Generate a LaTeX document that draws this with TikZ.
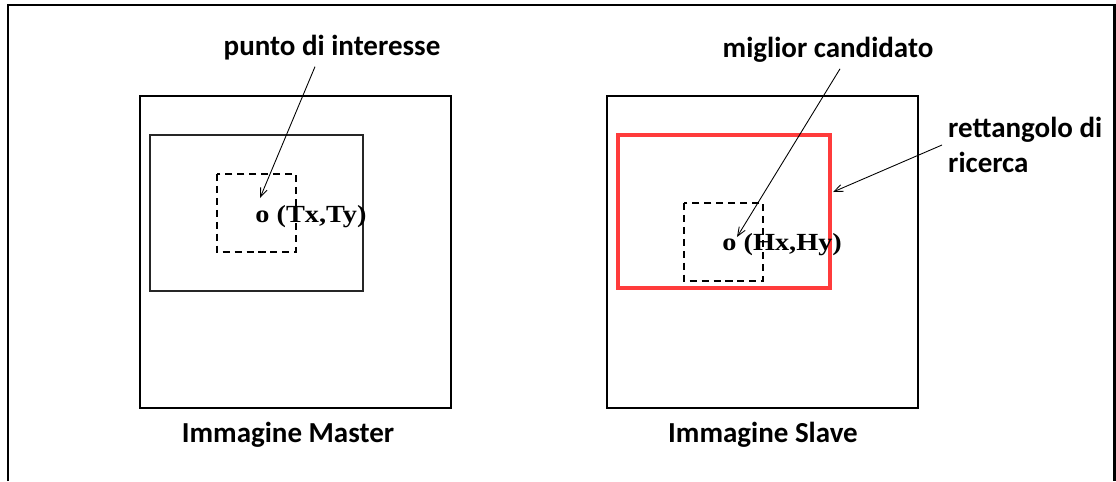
\documentclass[tikz,border=0pt]{standalone}
\usepackage{fontspec}
\setmainfont{Carlito}
\newfontfamily\coordfont{Liberation Serif}
\usetikzlibrary{arrows.meta}
\definecolor{searchred}{HTML}{FF3B3B}

\begin{document}
\begin{tikzpicture}[x=0.02cm, y=-0.02cm,
    label/.style={font=\fontsize{16.5}{19.5}\selectfont\bfseries},
    ptlabel/.style={font=\coordfont\fontsize{14}{16}\selectfont\bfseries, xscale=1.15, anchor=base west, inner sep=0pt},
    window/.style={line width=1.1pt, dash pattern=on 4pt off 2.8pt},
    pointer/.style={line width=0.5pt, -{Straight Barb[length=5pt, width=4pt]}}]
    \useasboundingbox (0,0) rectangle (1116,481);
    % outer frame, open at the bottom
    \draw[line width=1.7pt] (8,481) -- (8,5) -- (1114,5) -- (1114,481);

    % master image
    \draw[line width=1.1pt] (140,96) rectangle (451,408);
    \draw[line width=1.1pt, color=black!85] (150,135) rectangle (363,291);
    \draw[window] (217,174) rectangle (296,252);
    \node[ptlabel] (tpt) at (255,222) {o (Tx,Ty)};
    \coordinate (ttip) at (260,198);
    \node[label] (lblpunto) at (332,48) {punto di interesse};
    \draw[pointer] ([xshift=-0.34cm]lblpunto.south) -- (ttip);
    \node[label] (lblmaster) at (288,435) {Immagine Master};

    % slave image
    \draw[line width=1.1pt] (607,96) rectangle (918,408);
    \draw[line width=2.4pt, color=searchred] (618,135) rectangle (830,288);
    \draw[window] (684,203) rectangle (763,281);
    \node[ptlabel] (hpt) at (722,250) {o (Hx,Hy)};
    \coordinate (htip) at (737,237);
    \coordinate (rtip) at (833,192);
    \node[label] (lblcand) at (828,50) {miglior candidato};
    \draw[pointer] ([xshift=0.24cm]lblcand.south) -- (htip);
    \node[label, align=left, anchor=west] (lblricerca) at (942,145) {rettangolo di\\ricerca};
    \draw[pointer] (lblricerca.west) -- (rtip);
    \node[label] (lblslave) at (763,435) {Immagine Slave};
\end{tikzpicture}
\end{document}
